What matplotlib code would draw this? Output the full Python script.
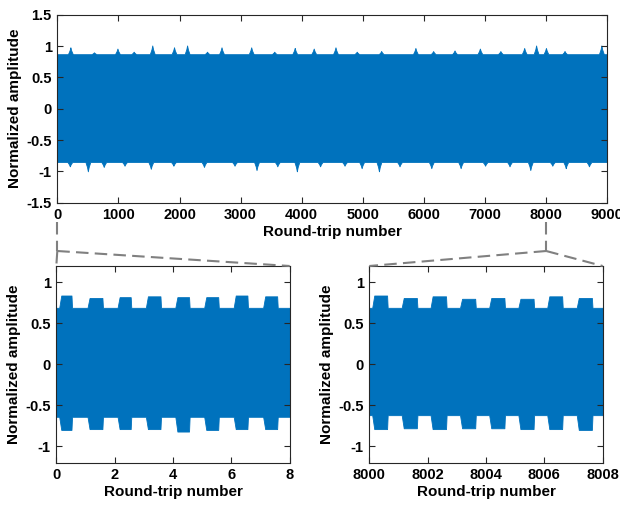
import numpy as np
import matplotlib
matplotlib.use("Agg")
import matplotlib.pyplot as plt
from matplotlib.lines import Line2D

# ---------------- data (envelopes) ----------------
# Top panel: dense signal, described by its envelope baseline and its visible spikes
top_base_upper = 0.87
top_base_lower = -0.85
top_upper_peak_x = [214, 600, 984, 1250, 1554, 1910, 2124, 2450, 2687, 3173, 3550, 3885, 4196,
                    4552, 4900, 5300, 5860, 6150, 6500, 6915, 7250, 7640, 7835, 7996, 8300, 8903]
top_upper_peak_y = [0.98, 0.90, 0.96, 0.91, 1.01, 0.98, 1.01, 0.91, 0.98, 0.98, 0.91, 0.97, 0.96,
                    0.98, 0.91, 0.92, 0.97, 0.92, 0.93, 0.96, 0.92, 0.97, 1.01, 0.97, 0.92, 1.01]
top_lower_peak_x = [205, 500, 760, 1100, 1530, 1900, 2400, 2900, 3260, 3600, 3920, 4300, 4700,
                    4980, 5263, 5600, 6120, 6600, 7000, 7400, 7740, 8100, 8320, 8700]
top_lower_peak_y = [-0.92, -1.00, -0.93, -0.91, -0.96, -0.91, -0.93, -0.91, -0.98, -0.92, -1.00, -0.92, -0.91,
                    -0.95, -1.00, -0.92, -0.95, -0.95, -0.91, -0.92, -0.98, -0.91, -0.95, -0.92]

# Bottom-left panel (0..8): segments with larger envelope
bl_high_start = [0.10, 1.07, 2.10, 3.07, 4.08, 5.07, 6.08, 7.09]
bl_high_end   = [0.54, 1.60, 2.57, 3.59, 4.57, 5.57, 6.57, 7.59]
bl_upper_high = [0.84, 0.81, 0.82, 0.83, 0.82, 0.82, 0.84, 0.83]
bl_lower_high = [-0.80, -0.79, -0.79, -0.79, -0.82, -0.80, -0.79, -0.79]
bl_upper_low, bl_lower_low = 0.69, -0.64

# Bottom-right panel (8000..8008)
br_high_start = [8000.10, 8001.11, 8002.10, 8003.11, 8004.11, 8005.11, 8006.10, 8007.11]
br_high_end   = [8000.63, 8001.65, 8002.65, 8003.65, 8004.65, 8005.65, 8006.63, 8007.65]
br_upper_high = [0.84, 0.81, 0.83, 0.80, 0.81, 0.80, 0.83, 0.81]
br_lower_high = [-0.79, -0.78, -0.79, -0.78, -0.78, -0.79, -0.79, -0.80]
br_upper_low, br_lower_low = 0.69, -0.62

BLUE = "#0072BD"
AXC = "#262626"


def envelope(starts, ends, hi, lo, x0, x1, ramp=0.07):
    xs, ys = [x0], [lo]
    for s, e, h in zip(starts, ends, hi):
        xs += [s, s + ramp, e - 0.02, e]
        ys += [lo, h, h, lo]
    xs.append(x1)
    ys.append(lo)
    return np.array(xs), np.array(ys)


def spikes(px, py, base, x0, x1, half=40.0):
    xs, ys = [x0], [base]
    for c, h in zip(px, py):
        xs += [c - half, c - half / 3, c, c + half / 3, c + half]
        ys += [base, base + 0.55 * (h - base), h, base + 0.55 * (h - base), base]
    xs.append(x1)
    ys.append(base)
    return np.array(xs, float), np.array(ys, float)


plt.rcParams["font.family"] = ["Liberation Sans", "DejaVu Sans"]
plt.rcParams["font.weight"] = "bold"

fig = plt.figure(figsize=(6.2, 5.11), dpi=100)
W, H = 620, 511


def add_ax(l, t, r, b):
    return fig.add_axes([l / W, 1 - b / H, (r - l) / W, (b - t) / H])


ax_top = add_ax(57.3, 14.7, 607.3, 202.7)
ax_bl = add_ax(56.3, 266.0, 289.7, 462.7)
ax_br = add_ax(369.3, 266.0, 602.7, 462.7)

# Top panel
ux, uy = spikes(top_upper_peak_x, top_upper_peak_y, top_base_upper, 0, 9000)
lx, ly = spikes(top_lower_peak_x, top_lower_peak_y, top_base_lower, 0, 9000)
grid = np.union1d(ux, lx)
ax_top.fill_between(grid, np.interp(grid, lx, ly), np.interp(grid, ux, uy),
                    color=BLUE, linewidth=0.6, edgecolor=BLUE)
ax_top.set_xlim(0, 9000)
ax_top.set_ylim(-1.5, 1.5)
ax_top.set_xticks(np.arange(0, 9001, 1000))
ax_top.set_yticks([-1.5, -1, -0.5, 0, 0.5, 1, 1.5])
ax_top.set_yticklabels(["-1.5", "-1", "-0.5", "0", "0.5", "1", "1.5"])

# Bottom panels
for ax, hs, he, uh, lh, ul, ll, x0, x1 in [
    (ax_bl, bl_high_start, bl_high_end, bl_upper_high, bl_lower_high, bl_upper_low, bl_lower_low, 0, 8),
    (ax_br, br_high_start, br_high_end, br_upper_high, br_lower_high, br_upper_low, br_lower_low, 8000, 8008),
]:
    ex, ey = envelope(hs, he, uh, ul, x0, x1)
    fx, fy = envelope(hs, he, lh, ll, x0, x1)
    g = np.union1d(ex, fx)
    ax.fill_between(g, np.interp(g, fx, fy), np.interp(g, ex, ey), color=BLUE,
                    linewidth=0.6, edgecolor=BLUE)
    ax.set_xlim(x0, x1)
    ax.set_ylim(-1.2, 1.2)
    ax.set_xticks(np.arange(x0, x1 + 1, 2))
    ax.set_yticks([-1, -0.5, 0, 0.5, 1])
    ax.set_yticklabels(["-1", "-0.5", "0", "0.5", "1"])

for ax in (ax_top, ax_bl, ax_br):
    ax.set_xlabel("Round-trip number", fontsize=11, fontweight="bold", labelpad=2)
    ax.set_ylabel("Normalized amplitude", fontsize=11, fontweight="bold", labelpad=3)
    ax.tick_params(direction="in", top=True, right=True, length=4, width=0.8,
                   labelsize=10.5, colors=AXC, pad=4)
    for lab in ax.get_xticklabels() + ax.get_yticklabels():
        lab.set_fontweight("bold")
        lab.set_color("black")
    for sp in ax.spines.values():
        sp.set_color(AXC)
        sp.set_linewidth(0.8)

# Dashed zoom connectors
fig.canvas.draw()
inv = fig.transFigure.inverted()
y_start = 1 - 222 / H
y_apex = 1 - 251 / H
for xdata, axb in [(0, ax_bl), (8000, ax_br)]:
    xf = inv.transform(ax_top.transData.transform((xdata, 0)))[0]
    pos = axb.get_position()
    kw = dict(transform=fig.transFigure, color="#808080", linewidth=1.5,
              linestyle=(0, (6, 3)), clip_on=False)
    fig.add_artist(Line2D([xf, xf], [y_start, y_apex], **kw))
    fig.add_artist(Line2D([xf, pos.x0], [y_apex, pos.y1], **kw))
    fig.add_artist(Line2D([xf, pos.x1], [y_apex, pos.y1], **kw))

fig.savefig("out.png", dpi=100)
